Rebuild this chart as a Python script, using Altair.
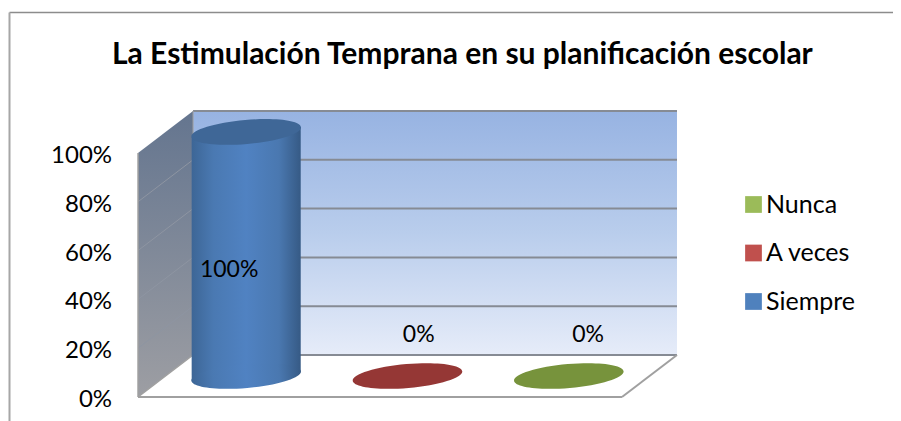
import altair as alt
import pandas as pd

# ---- chart values ----
categories = ["Siempre", "A veces", "Nunca"]
values = [1.0, 0.0, 0.0]
value_labels = ["100%", "0%", "0%"]
tick_values = [0, 0.2, 0.4, 0.6, 0.8, 1.0]
tick_labels = ["0%", "20%", "40%", "60%", "80%", "100%"]
legend_order = ["Nunca", "A veces", "Siempre"]
legend_colors = ["#9bbb59", "#c0504d", "#4f81bd"]
cap_colors = {"Siempre": "#3f6797", "A veces": "#953735", "Nunca": "#77933c"}
title_text = "La Estimulación Temprana en su planificación escolar"

# ---- 3D projection, in data units (category slots and share) ----
DX, DY = 0.341, 0.172          # how far the back wall is shifted
sx = alt.Scale(domain=[-0.806, 4.68], range=[0, 885], nice=False, zero=False)
sy = alt.Scale(domain=[-0.0984, 1.594], range=[413, 0], nice=False, zero=False)
FONT = "Lato"


def X(f="x"):
    return alt.X(f"{f}:Q", scale=sx, axis=None)


def Y(f="y"):
    return alt.Y(f"{f}:Q", scale=sy, axis=None)


def grad(stops, vertical=True):
    return {
        "gradient": "linear",
        "x1": 0, "y1": 0,
        "x2": 0 if vertical else 1,
        "y2": 1 if vertical else 0,
        "stops": [{"offset": o, "color": c} for o, c in stops],
    }


def seg(x, y, x2, y2, color="#8f9399", width=1.8):
    d = pd.DataFrame([{"x": x, "y": y, "x2": x2, "y2": y2}])
    return alt.Chart(d).mark_rule(color=color, strokeWidth=width).encode(
        x=X(), y=Y(), x2="x2:Q", y2="y2:Q"
    )


# the percent scale labels, set against the front plane
axis_layer = alt.Chart(pd.DataFrame({
    "x": [-0.161] * len(tick_values), "y": tick_values, "t": tick_labels,
})).mark_text(
    font=FONT, fontSize=24, color="#000000", align="right", baseline="middle", dy=3
).encode(x=X(), y=Y(), text="t:N")

# back wall
wall = alt.Chart(pd.DataFrame([{"x": DX, "x2": 3 + DX, "y": DY, "y2": 1 + DY}])).mark_rect(
    fill=grad([(0, "#97b3e2"), (0.5, "#b9cdec"), (1, "#e6ecf9")])
).encode(x=X(), x2="x2:Q", y=Y(), y2="y2:Q")

# side wall
side_df = pd.DataFrame([
    {"x": 0, "y": 0, "y2": 1},
    {"x": DX, "y": DY, "y2": 1 + DY},
])
side = alt.Chart(side_df).mark_area(
    fill=grad([(0, "#64758f"), (1, "#9d9ea3")])
).encode(x=X(), y=Y(), y2="y2:Q")

layers = [axis_layer, wall, side]

# grid lines on back wall and side wall
for t in tick_values:
    layers.append(seg(DX, t + DY, 3 + DX, t + DY, "#868b94", 2))
    if 0 < t < 1:
        layers.append(seg(0, t, DX, t + DY, "#8e95a2", 1))

# floor and wall outlines
layers += [
    seg(0, 0, 3, 0, "#a0a0a0", 2),
    seg(3, 0, 3 + DX, DY, "#a0a0a0", 2),
    seg(0, 0, DX, DY, "#a0a0a0", 1.5),
    seg(0, 0, 0, 1, "#a0a0a0", 1.5),
    seg(DX, DY, DX, 1 + DY, "#a0a0a0", 1),
]

# cylinders
ELLIPSE = "M-1,0 A1,0.218 0 1,1 1,0 A1,0.218 0 1,1 -1,0 Z"
HALF_W = 0.338          # half a cylinder's width, in category slots
TILT = 0.0205           # how much higher the right side sits than the left
BODY = grad([(0, "#3d6696"), (0.2, "#4a79b2"), (0.5, "#5082c2"), (0.8, "#4a78b0"), (1, "#365a85")], vertical=False)

for i, (cat, v) in enumerate(zip(categories, values)):
    cx = i + 0.5 + DX / 2
    base = DY / 2
    if v > 0:
        body_df = pd.DataFrame([
            {"x": cx - HALF_W, "y": base - TILT, "y2": base + v - TILT},
            {"x": cx + HALF_W, "y": base + TILT, "y2": base + v + TILT},
        ])
        layers.append(alt.Chart(body_df).mark_area(fill=BODY).encode(x=X(), y=Y(), y2="y2:Q"))
        layers.append(
            alt.Chart(pd.DataFrame([{"x": cx, "y": base}]))
            .mark_point(shape=ELLIPSE, size=12100, angle=355, filled=True, opacity=1, fill=BODY, strokeWidth=0)
            .encode(x=X(), y=Y())
        )
    layers.append(
        alt.Chart(pd.DataFrame([{"x": cx, "y": base + v}]))
        .mark_point(shape=ELLIPSE, size=12100, angle=355, filled=True, opacity=1, fill=cap_colors[cat], strokeWidth=0)
        .encode(x=X(), y=Y())
    )

# value labels
label_x = [0.565, 1.74, 2.79]
label_y = [0.52, 0.254, 0.254]
labels = alt.Chart(pd.DataFrame({"x": label_x, "y": label_y, "t": value_labels})).mark_text(
    font=FONT, fontSize=23, color="#000000", align="center", baseline="middle"
).encode(x=X(), y=Y(), text="t:N")
layers.append(labels)

# legend
legend_layer = alt.Chart(pd.DataFrame({"s": legend_order, "x": [0, 0, 0], "y": [0, 0, 0]})).mark_point(
    filled=True, shape="square", size=0
).encode(
    x=X(), y=Y(),
    color=alt.Color("s:N", scale=alt.Scale(domain=legend_order, range=legend_colors), legend=alt.Legend(
        orient="none", legendX=733, legendY=184, title=None, symbolType="square", symbolSize=280,
        symbolStrokeWidth=0, symbolOpacity=1, labelFont=FONT, labelFontSize=25, labelColor="#000000",
        rowPadding=22.5, labelOffset=0, values=legend_order,
    )),
)
layers.append(legend_layer)

# outer frame: top and left borders only
layers.append(alt.Chart(pd.DataFrame({"a": [0]})).mark_rule(color="#8c8c8c", strokeWidth=1.5).encode(
    x=alt.value(1.5), x2=alt.value(885), y=alt.value(4.5)))
layers.append(alt.Chart(pd.DataFrame({"a": [0]})).mark_rule(color="#a6a6a6", strokeWidth=2).encode(
    x=alt.value(1.5), y=alt.value(4.5), y2=alt.value(413)))

chart = alt.layer(*layers).properties(
    width=885,
    height=413,
    padding=0,
    autosize=alt.AutoSizeParams(type="none"),
    title=alt.TitleParams(
        text=title_text, font=FONT, fontSize=30, fontWeight="bold", color="#000000",
        anchor="start", orient="top", dx=104, dy=77, offset=0, baseline="middle",
    ),
).configure_view(stroke=None)

chart.save("out.html", embed_options={"renderer": "svg", "actions": False})
